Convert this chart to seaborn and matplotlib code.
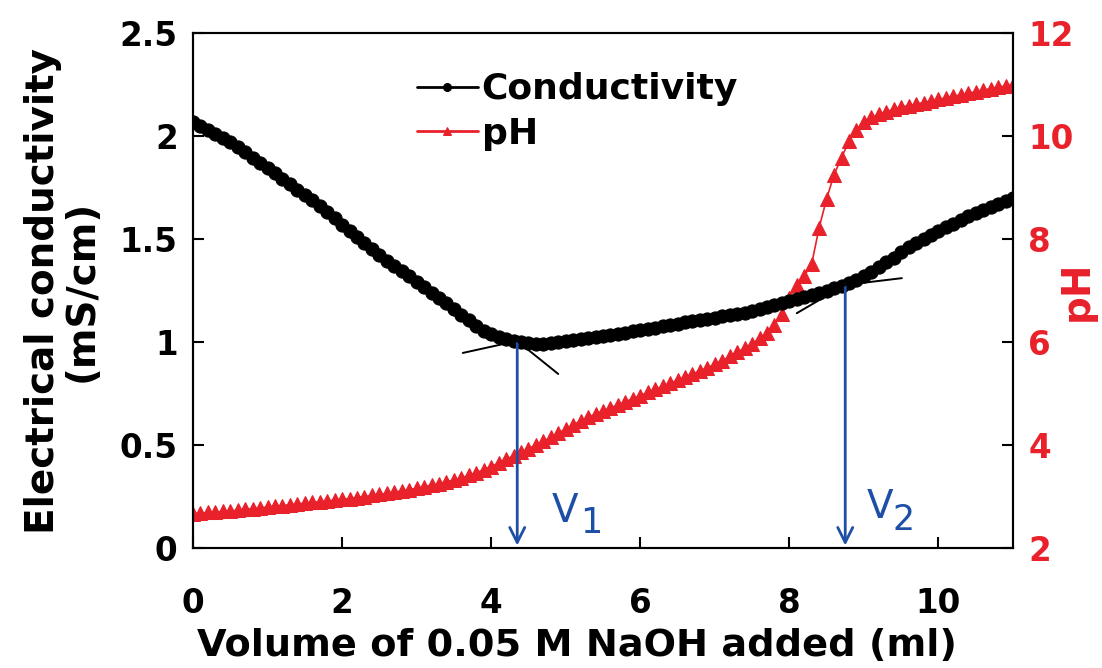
import numpy as np
import pandas as pd
import seaborn as sns
import matplotlib.pyplot as plt

# titration data (0.1 ml steps)
volume = [round(0.1 * i, 1) for i in range(111)]
conductivity = [
    2.07, 2.05, 2.03, 2.01, 1.99, 1.97, 1.945, 1.92, 1.895, 1.87,
    1.845, 1.82, 1.79, 1.765, 1.74, 1.715, 1.69, 1.66, 1.63, 1.60,
    1.57, 1.54, 1.51, 1.48, 1.45, 1.42, 1.395, 1.37, 1.345, 1.32,
    1.29, 1.265, 1.24, 1.215, 1.19, 1.16, 1.13, 1.105, 1.08, 1.055,
    1.04, 1.025, 1.015, 1.005, 1.00, 0.995, 0.99, 0.99, 0.995, 1.00,
    1.005, 1.01, 1.015, 1.02, 1.025, 1.03, 1.035, 1.04, 1.046, 1.052,
    1.058, 1.064, 1.07, 1.076, 1.082, 1.088, 1.095, 1.10, 1.106, 1.112,
    1.118, 1.124, 1.13, 1.137, 1.143, 1.15, 1.16, 1.17, 1.18, 1.19,
    1.20, 1.21, 1.22, 1.23, 1.24, 1.25, 1.26, 1.27, 1.285, 1.30,
    1.32, 1.34, 1.365, 1.39, 1.41, 1.435, 1.46, 1.48, 1.50, 1.52,
    1.54, 1.56, 1.575, 1.59, 1.61, 1.625, 1.64, 1.655, 1.67, 1.685,
    1.70,
]
ph = [
    2.67, 2.68, 2.69, 2.70, 2.71, 2.72, 2.735, 2.75, 2.765, 2.78,
    2.795, 2.81, 2.825, 2.84, 2.855, 2.87, 2.885, 2.90, 2.915, 2.93,
    2.945, 2.96, 2.98, 3.00, 3.02, 3.04, 3.06, 3.085, 3.11, 3.135,
    3.16, 3.19, 3.22, 3.25, 3.285, 3.32, 3.36, 3.41, 3.46, 3.52,
    3.58, 3.65, 3.72, 3.79, 3.86, 3.93, 4.00, 4.07, 4.15, 4.23,
    4.31, 4.39, 4.47, 4.54, 4.60, 4.66, 4.72, 4.78, 4.84, 4.90,
    4.96, 5.02, 5.08, 5.14, 5.20, 5.26, 5.32, 5.38, 5.44, 5.50,
    5.57, 5.64, 5.72, 5.80, 5.88, 5.97, 6.07, 6.18, 6.33, 6.55,
    6.85, 7.10, 7.28, 7.52, 8.22, 8.78, 9.25, 9.58, 9.90, 10.12,
    10.28, 10.36, 10.42, 10.47, 10.52, 10.56, 10.59, 10.62, 10.65, 10.68,
    10.71, 10.74, 10.77, 10.80, 10.83, 10.86, 10.89, 10.92, 10.95, 10.97,
    11.00,
]

# tangent lines used to locate the equivalence points
tangent_x = [[3.62, 4.35], [4.35, 4.90], [8.10, 8.75], [8.75, 9.51]]
tangent_y = [[0.947, 1.005], [1.005, 0.845], [1.14, 1.277], [1.277, 1.31]]
v_points = [4.35, 8.75]
v_tops = [1.005, 1.277]
v_names = ['1', '2']

df = pd.DataFrame({'volume': volume, 'conductivity': conductivity, 'pH': ph})

red = '#e8212b'
blue = '#1e4fa6'

sns.set_style('ticks')
plt.rcParams['font.family'] = ['DejaVu Sans']
plt.rcParams['font.weight'] = 'bold'
plt.rcParams['text.color'] = 'black'
plt.rcParams['axes.labelcolor'] = 'black'
plt.rcParams['xtick.color'] = 'black'
plt.rcParams['ytick.color'] = 'black'

fig = plt.figure(figsize=(11.02, 6.68), dpi=100)
ax = fig.add_axes([0.1751, 0.1796, 0.7441, 0.7710])
ax2 = ax.twinx()

sns.lineplot(data=df, x='volume', y='conductivity', ax=ax, color='black',
             marker='o', markersize=9.5, markeredgecolor='black',
             linewidth=1.2, legend=False)
sns.lineplot(data=df, x='volume', y='pH', ax=ax2, color=red,
             marker='^', markersize=10, markeredgecolor=red,
             linewidth=1.2, legend=False)

for tx, ty in zip(tangent_x, tangent_y):
    ax.plot(tx, ty, color='black', lw=1.4, zorder=5)

for xv, top in zip(v_points, v_tops):
    ax.annotate('', xy=(xv, 0.012), xytext=(xv, top),
                arrowprops=dict(arrowstyle='->', color=blue, lw=2,
                                mutation_scale=27, shrinkA=0, shrinkB=0))

ax.text(4.81, 0.126, 'V', color=blue, fontsize=28, fontweight='normal')
ax.text(5.19, 0.073, v_names[0], color=blue, fontsize=25, fontweight='normal')
ax.text(9.04, 0.146, 'V', color=blue, fontsize=28, fontweight='normal')
ax.text(9.39, 0.087, v_names[1], color=blue, fontsize=25, fontweight='normal')

ax.set_xlim(0, 11)
ax.set_ylim(0, 2.5)
ax2.set_ylim(2, 12)
ax.set_xticks([0, 2, 4, 6, 8, 10])
ax.set_xticklabels(['0', '2', '4', '6', '8', '10'])
ax.set_yticks([0, 0.5, 1, 1.5, 2, 2.5])
ax.set_yticklabels(['0', '0.5', '1', '1.5', '2', '2.5'])
ax2.set_yticks([2, 4, 6, 8, 10, 12])
ax2.set_yticklabels(['2', '4', '6', '8', '10', '12'])

ax.tick_params(axis='x', direction='in', length=8, width=1.5, labelsize=23.5,
               pad=28, colors='black')
ax.tick_params(axis='y', direction='in', length=8, width=1.5, labelsize=23.5,
               pad=11, colors='black')
ax2.tick_params(axis='y', direction='in', length=8, width=1.5, labelsize=23.5,
                pad=11, color='black', labelcolor=red)
for a in (ax, ax2):
    for s in a.spines.values():
        s.set_linewidth(1.5)
        s.set_color('black')

ax.set_xlabel('Volume of 0.05 M NaOH added (ml)', fontsize=27.5, fontweight='bold')
ax.xaxis.set_label_coords(0.468, -0.155)
ax.set_ylabel('Electrical conductivity\n(mS/cm)', fontsize=28, fontweight='bold',
              labelpad=14, linespacing=1.0)
ax2.set_ylabel('pH', fontsize=28, fontweight='bold', color=red, rotation=90)
ax2.yaxis.set_label_coords(1.055, 0.5)
ax.set_zorder(ax2.get_zorder() + 1)
ax.patch.set_visible(False)

handles = [ax.lines[0], ax2.lines[0]]
leg = fig.legend(handles, ['Conductivity', 'pH'], loc='upper left',
                 bbox_to_anchor=(0.378, 0.892), frameon=False, fontsize=26,
                 handlelength=1.7, handletextpad=0.1, labelspacing=0.3,
                 borderpad=0, borderaxespad=0, numpoints=1, markerscale=0.6)
for h in leg.legend_handles:
    h.set_linewidth(2)

fig.savefig('out.png', dpi=100)
